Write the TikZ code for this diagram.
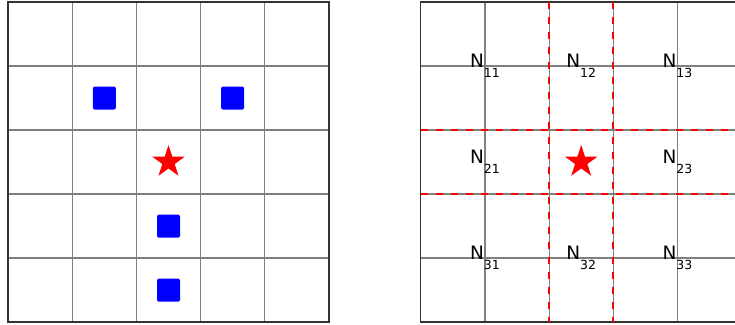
\documentclass[tikz,border=0pt]{standalone}
\usepackage{fontspec}
\setmainfont{DejaVu Sans}
\usepackage{tikz}
\usetikzlibrary{positioning,shapes.geometric}
\definecolor{gridgray}{gray}{0.5}
\newcommand{\nlab}[1]{N\raisebox{-10.5pt}{\fontsize{12.5}{13}\selectfont #1}}
\tikzstyle{cellline} = [draw=gridgray, line width=1.2pt]
\tikzstyle{frame} = [draw=black!80, line width=1.2pt]
\tikzstyle{split} = [draw=red, line width=2.3pt, dash pattern=on 7pt off 8pt]
\tikzstyle{target} = [star, star points=5, star point ratio=2.618, fill=red, draw=none, minimum size=34pt, inner sep=0pt]
\tikzstyle{obst} = [rectangle, fill=blue, draw=none, minimum size=23pt, inner sep=0pt, rounded corners=1.5pt]
\tikzstyle{lab} = [inner sep=0pt, font=\fontsize{18.5}{19}\selectfont]

\begin{document}
\begin{tikzpicture}[x=1pt, y=-1pt]
	\useasboundingbox (0,0) rectangle (735,324);
	\clip (0,0) rectangle (735,324);
	%
	% left grid
	\foreach \i in {1,...,4} {
		\draw [cellline] (8+64.2*\i, 2) -- (8+64.2*\i, 322);
		\draw [cellline] (8, 2+64*\i) -- (329, 2+64*\i);
	}
	\draw [frame] (8,2) rectangle (329,322);
	%
	\node (obst1) [obst] at (104.3,98) {};
	\node (obst2) [obst] at (232.7,98) {};
	\node (obst3) [obst] at (168.5,226) {};
	\node (obst4) [obst] at (168.5,290) {};
	\node (goal) [target] at (168.5,162) {};
	%
	% right grid
	\foreach \i in {1,...,4} {
		\draw [cellline] (420.7+64.2*\i, 2) -- (420.7+64.2*\i, 322);
		\draw [cellline] (420.7, 2+64*\i) -- (741.7, 2+64*\i);
	}
	\draw [frame] (420.7,2) rectangle (741.7,322);
	%
	\draw [split] (549.1,2) -- (549.1,322);
	\draw [split] (613.3,2) -- (613.3,322);
	\draw [split] (420.7,130) -- (741.7,130);
	\draw [split] (420.7,194) -- (741.7,194);
	%
	\node (n11) [lab] at (484.9,66) {\nlab{11}};
	\node (n12) [lab] at (581.2,66) {\nlab{12}};
	\node (n13) [lab] at (677.5,66) {\nlab{13}};
	\node (n21) [lab] at (484.9,162) {\nlab{21}};
	\node (goal2) [target] at (581.2,162) {};
	\node (n23) [lab] at (677.5,162) {\nlab{23}};
	\node (n31) [lab] at (484.9,258) {\nlab{31}};
	\node (n32) [lab] at (581.2,258) {\nlab{32}};
	\node (n33) [lab] at (677.5,258) {\nlab{33}};
\end{tikzpicture}
\end{document}
